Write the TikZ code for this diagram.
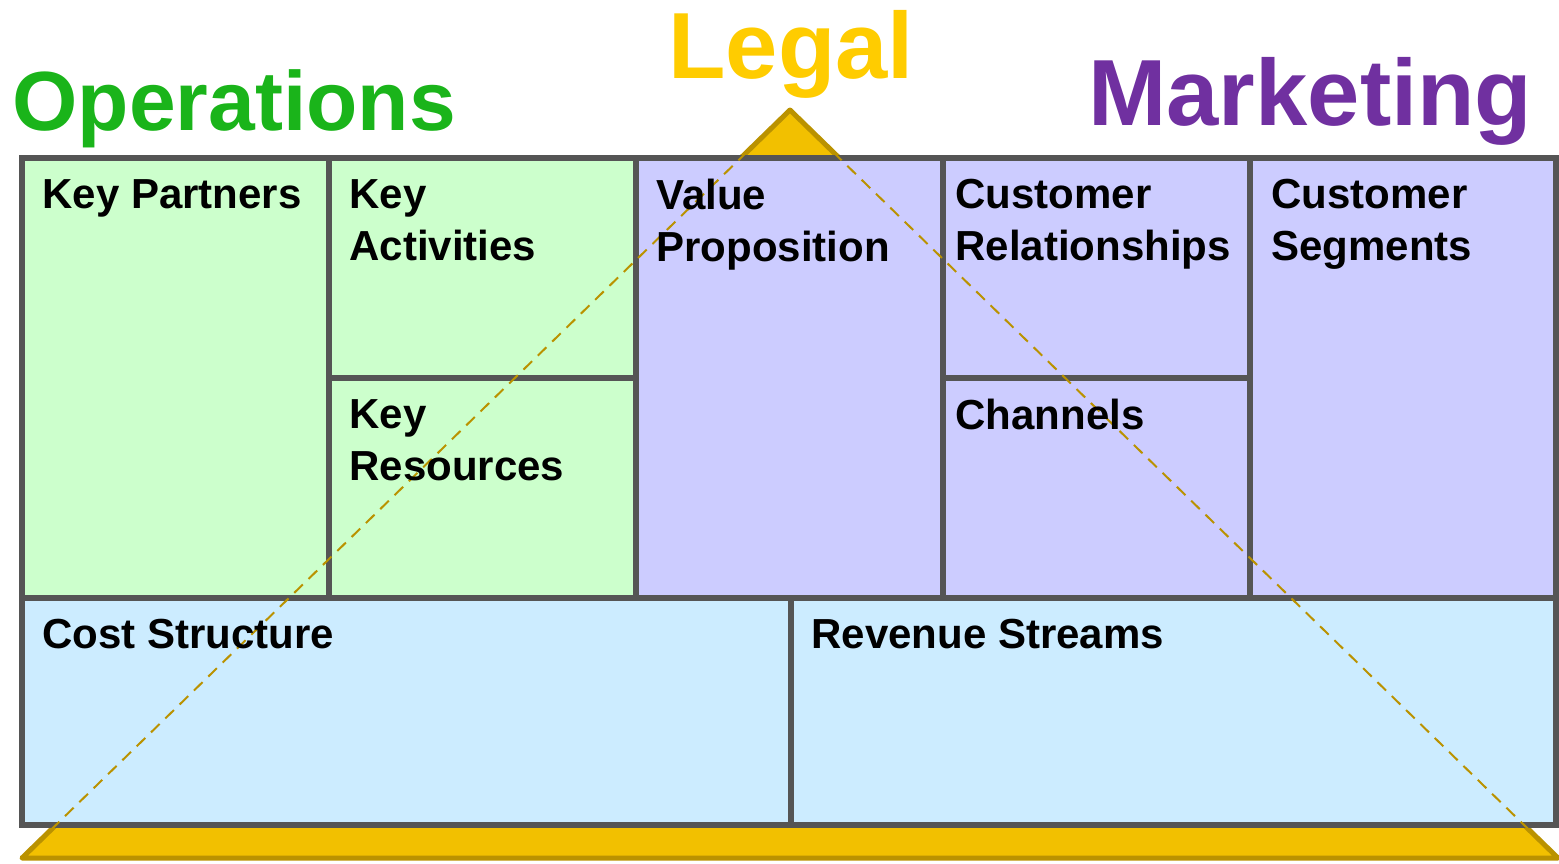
\documentclass[tikz,border=0pt]{standalone}
\usepackage{fontspec}
\setmainfont{Liberation Sans}
\definecolor{framegray}{RGB}{85,85,85}
\definecolor{opsfill}{RGB}{204,255,204}
\definecolor{mktfill}{RGB}{204,204,255}
\definecolor{finfill}{RGB}{204,236,255}
\definecolor{legalgold}{RGB}{242,192,0}
\definecolor{legaledge}{RGB}{186,146,0}
\definecolor{opstitle}{RGB}{26,180,26}
\definecolor{mkttitle}{RGB}{112,48,160}
\definecolor{legaltitle}{RGB}{255,204,0}
\begin{document}
\begin{tikzpicture}[x=0.5pt, y=-0.5pt,
  cell/.style={draw=framegray, line width=3pt},
  celltext/.style={anchor=north west, inner sep=0pt, align=left, font=\fontsize{21}{26}\selectfont\bfseries},
  title/.style={anchor=base west, inner sep=0pt, font=\fontsize{#1}{#1}\selectfont\bfseries}]
  \useasboundingbox (0, 0) rectangle (1559, 863);
  % the big legal triangle behind the canvas
  \coordinate (apex) at (790, 110);
  \coordinate (baseL) at (22, 858);
  \coordinate (baseR) at (1558, 858);
  \filldraw[fill=legalgold, draw=legaledge, line width=2.5pt, line join=round] (apex) -- (baseL) -- (baseR) -- cycle;
  % operations
  \filldraw[cell, fill=opsfill] (22, 158) rectangle (329, 598);
  \filldraw[cell, fill=opsfill] (329, 158) rectangle (636, 378);
  \filldraw[cell, fill=opsfill] (329, 378) rectangle (636, 598);
  % marketing
  \filldraw[cell, fill=mktfill] (636, 158) rectangle (943, 598);
  \filldraw[cell, fill=mktfill] (943, 158) rectangle (1250, 378);
  \filldraw[cell, fill=mktfill] (943, 378) rectangle (1250, 598);
  \filldraw[cell, fill=mktfill] (1250, 158) rectangle (1556, 598);
  % finance
  \filldraw[cell, fill=finfill] (22, 598) rectangle (791, 825);
  \filldraw[cell, fill=finfill] (791, 598) rectangle (1556, 825);
  % dashed sides of the triangle across the canvas
  \draw[legaledge, line width=1pt, dash pattern=on 6pt off 4pt] (apex) -- (baseL);
  \draw[legaledge, line width=1pt, dash pattern=on 6pt off 4pt] (apex) -- (baseR);
  % cell labels
  \node[celltext] (kp) at (42, 179) {Key Partners};
  \node[celltext] (ka) at (349, 179) {Key\\Activities};
  \node[celltext] (kr) at (349, 399) {Key\\Resources};
  \node[celltext] (vp) at (656, 179) {Value\\Proposition};
  \node[celltext] (cr) at (955, 179) {Customer\\Relationships};
  \node[celltext] (ch) at (955, 399) {Channels};
  \node[celltext] (cs) at (1271, 179) {Customer\\Segments};
  \node[celltext] (cost) at (42, 619) {Cost Structure};
  \node[celltext] (rev) at (811, 619) {Revenue Streams};
  % titles
  \node[title=42, text=opstitle] (ops) at (12, 130) {Operations};
  \node[title=47, text=legaltitle] (legal) at (668, 78) {Legal};
  \node[title=47, text=mkttitle] (mkt) at (1088, 125) {Marketing};
\end{tikzpicture}
\end{document}
